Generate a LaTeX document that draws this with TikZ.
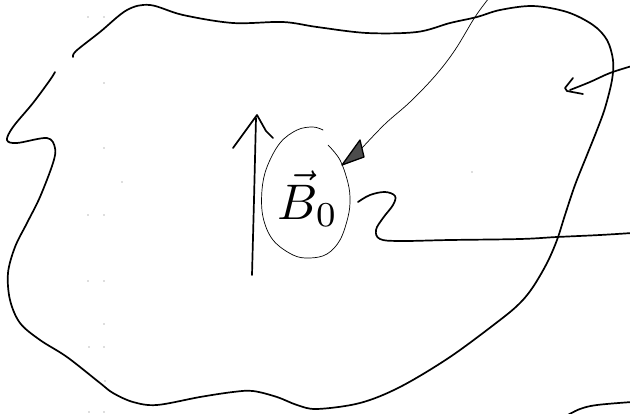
\documentclass[tikz,border=0pt]{standalone}
\usepackage{graphicx}
\usetikzlibrary{calc}
\tikzset{
  ink/.style={line width=1.7pt, line cap=round, line join=round, black},
  thinink/.style={line width=0.7pt, line cap=round, line join=round, black},
  speck/.style={fill=black!55, draw=none},
}
\begin{document}
\begin{tikzpicture}[x=1pt,y=-1pt]
\useasboundingbox (0,0) rectangle (630,413);
\fill[white] (0,0) rectangle (630,413);

% main blob (open at the top left)
\draw[ink] plot[smooth, tension=0.55] coordinates {
(73,57) (76,51) (100,32) (127,10) (150,5) (183,15) (233,23) (283,22) (317,27)
(367,33) (417,32) (450,23) (477,17) (500,10) (533,6) (567,12) (593,25) (607,40)
(613,60) (612,80) (605,108) (597,130) (587,155) (575,185) (565,215) (557,240)
(547,263) (533,287) (520,303) (500,320) (450,357) (400,387) (360,403) (317,409)
(297,405) (277,397) (253,391) (233,392) (200,397) (157,405) (133,402) (113,393)
(100,383) (67,357) (40,340) (20,323) (10,300) (8,273) (15,247) (27,223) (40,197)
(53,163) (55,148) (47,138) (17,143) (7,140) (13,127) (33,103) (50,80) (55,72)};

% S-curve and long line to the right
\draw[ink] plot[smooth, tension=0.6] coordinates {
(358,202) (370,195) (385,192) (395,196) (393,205) (383,218) (376,230) (380,239)
(400,241) (450,240) (520,239) (557,237) (600,235) (632,233)};

% bottom-right stroke
\draw[ink] plot[smooth, tension=0.6] coordinates {(566,416) (580,409) (597,405) (632,402)};

% arrow coming from the right
\draw[ink] plot[smooth, tension=0.6] coordinates {(632,66) (610,73) (590,82) (570,90)};
\draw[ink] (573,78) -- (565,88) -- (567,91) -- (583,94);

% big upward arrow
\draw[ink] (252,275) -- (254,200) -- (256,118);
\draw[ink] (233,148) -- (257,115) -- (266,131) -- (273,138);

% thin ellipse around the label (open near the top right)
\draw[thinink] plot[smooth, tension=0.6] coordinates {
(328,145) (340,160) (348,183) (350,200) (348,217) (340,240) (327,254) (310,258)
(293,255) (273,240) (263,217) (262,190) (267,167) (280,143) (297,130) (313,127) (323,130)};

% thin arrow from the top
\draw[thinink] plot[smooth, tension=0.6] coordinates {
(489,-2) (475,17) (455,50) (435,76) (410,102) (385,124) (362,148)};
\draw[line width=1.3pt, line join=round, fill=black!70] (342,165) -- (360,140) -- (364,157) -- cycle;

% label
\node[inner sep=0pt] (B) at (308,199) {\scalebox{5}{$\vec{B}_{0}$}};

% scanner specks
\foreach \p in {(88,17),(104,17),(104,83),(104,148),(122,182),(88,215),(104,215),
(88,281),(104,281),(104,324),(89,347),(104,347),(105,381),(89,412),(104,412),(472,172)}
  \fill[speck] \p circle (0.7);
\end{tikzpicture}
\end{document}
